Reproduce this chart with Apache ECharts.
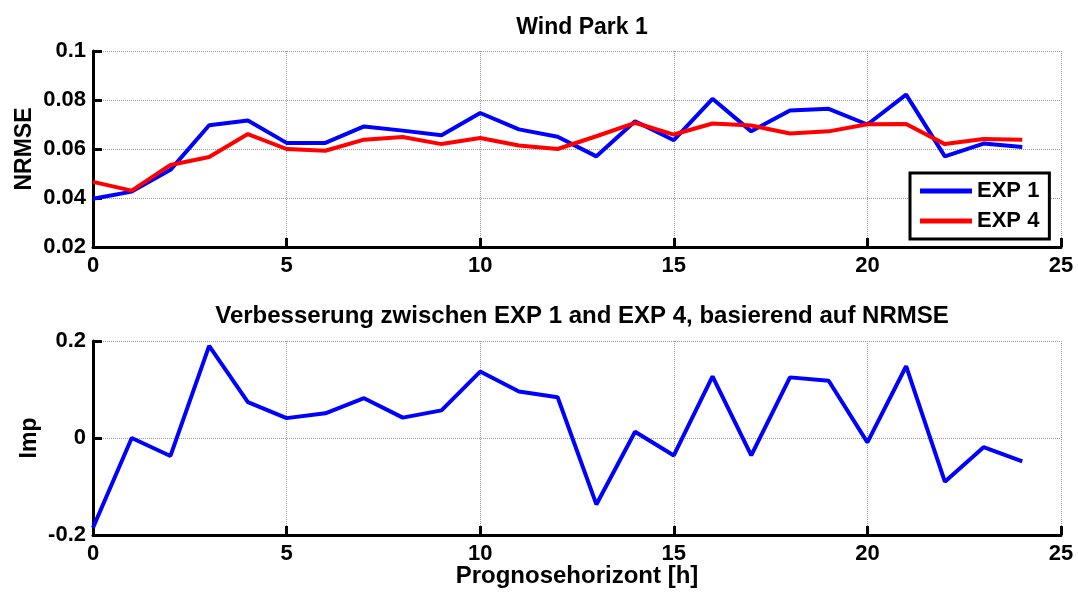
<!DOCTYPE html>
<html>
<head>
<meta charset="utf-8">
<script src="https://cdn.jsdelivr.net/npm/echarts@6/dist/echarts.min.js"></script>
<style>
html,body{margin:0;padding:0;background:#fff;}
#c{width:1078px;height:594px;}
</style>
</head>
<body>
<div id="c"></div>
<script>
const hours = [0,1,2,3,4,5,6,7,8,9,10,11,12,13,14,15,16,17,18,19,20,21,22,23,24];
const exp1 = [0.0397,0.0426,0.0515,0.0697,0.0716,0.0625,0.0625,0.0692,0.0675,0.0656,0.0747,0.0680,0.0650,0.0570,0.0713,0.0636,0.0805,0.0672,0.0757,0.0764,0.0700,0.0822,0.0570,0.0622,0.0608];
const exp4 = [0.0466,0.0430,0.0535,0.0567,0.0661,0.0600,0.0593,0.0638,0.0649,0.0620,0.0645,0.0614,0.0600,0.0652,0.0707,0.0659,0.0704,0.0696,0.0663,0.0672,0.0701,0.0702,0.0620,0.0641,0.0638];
const imp = [-0.185,0.0,-0.037,0.190,0.074,0.041,0.051,0.082,0.042,0.057,0.137,0.096,0.084,-0.137,0.013,-0.036,0.127,-0.036,0.125,0.118,-0.009,0.148,-0.090,-0.019,-0.048];
const seriesNames = ['EXP 1','EXP 4'];
const titles = ['Wind Park 1','Verbesserung zwischen EXP 1 and EXP 4, basierend auf NRMSE'];
const axisNames = {x:'Prognosehorizont [h]', y1:'NRMSE', y2:'Imp'};

const FONT = 'Liberation Sans, Arial, sans-serif';
const pairs = (ys) => hours.map((h,i)=>[h, ys[i]]);

const baseText = {fontFamily: FONT, fontWeight:'bold', fontSize:22, color:'#000'};
function xAxis(gi, name){
  return {
    type:'value', gridIndex:gi, min:0, max:25, interval:5,
    axisLine:{show:true, onZero:false, lineStyle:{color:'#000', width:3}},
    axisTick:{show:true, inside:true, length:9, lineStyle:{color:'#000', width:3}},
    axisLabel:{...baseText, margin:8},
    splitLine:{show:true, lineStyle:{color:'#999', width:1, type:[1,1]}},
    name: name || '', nameLocation:'middle', nameGap:29, nameMoveOverlap:false,
    nameTextStyle:{...baseText, fontSize:24}
  };
}
function yAxis(gi, min, max, interval, name, gap){
  return {
    type:'value', gridIndex:gi, min:min, max:max, interval:interval,
    axisLine:{show:true, onZero:false, lineStyle:{color:'#000', width:3}},
    axisTick:{show:true, inside:true, length:9, lineStyle:{color:'#000', width:3}},
    axisLabel:{...baseText, margin:7, formatter:(v)=>String(+v.toFixed(4))},
    splitLine:{show:true, lineStyle:{color:'#999', width:1, type:[1,1]}},
    name:name, nameLocation:'middle', nameGap:gap, nameRotate:90, nameMoveOverlap:false,
    nameTextStyle:{...baseText, fontSize:23}
  };
}

const chart = echarts.init(document.getElementById('c'), null, {renderer:'canvas'});
chart.setOption({
  backgroundColor:'#fff',
  animation:false,
  title:[
    {text:titles[0], left:577, textAlign:'center', top:11, textStyle:{...baseText, fontSize:23}},
    {text:titles[1], left:577, textAlign:'center', top:299, textStyle:{...baseText, fontSize:24}}
  ],
  grid:[
    {left:93, right:17, top:51, height:196},
    {left:93, right:17, top:341, height:194}
  ],
  xAxis:[xAxis(0), xAxis(1, axisNames.x)],
  yAxis:[yAxis(0, 0.02, 0.1, 0.02, axisNames.y1, 57), yAxis(1, -0.2, 0.2, 0.2, axisNames.y2, 52)],
  legend:{
    data:seriesNames, orient:'vertical', left:910, top:173,
    padding:[7,10,7,10], itemGap:8, itemWidth:52, itemHeight:5,
    icon:'rect', borderColor:'#000', borderWidth:3, backgroundColor:'#fff',
    textStyle:{...baseText, fontSize:22, lineHeight:22}
  },
  series:[
    {name:seriesNames[0], type:'line', xAxisIndex:0, yAxisIndex:0, data:pairs(exp1), showSymbol:false, symbol:'none', lineStyle:{color:'#0000ff', width:4}, itemStyle:{color:'#0000ff'}, z:2},
    {name:seriesNames[1], type:'line', xAxisIndex:0, yAxisIndex:0, data:pairs(exp4), showSymbol:false, symbol:'none', lineStyle:{color:'#ff0000', width:4}, itemStyle:{color:'#ff0000'}, z:3},
    {name:'Imp', type:'line', xAxisIndex:1, yAxisIndex:1, data:pairs(imp), showSymbol:false, symbol:'none', lineStyle:{color:'#0000ff', width:4}, itemStyle:{color:'#0000ff'}}
  ]
});
</script>
</body>
</html>
